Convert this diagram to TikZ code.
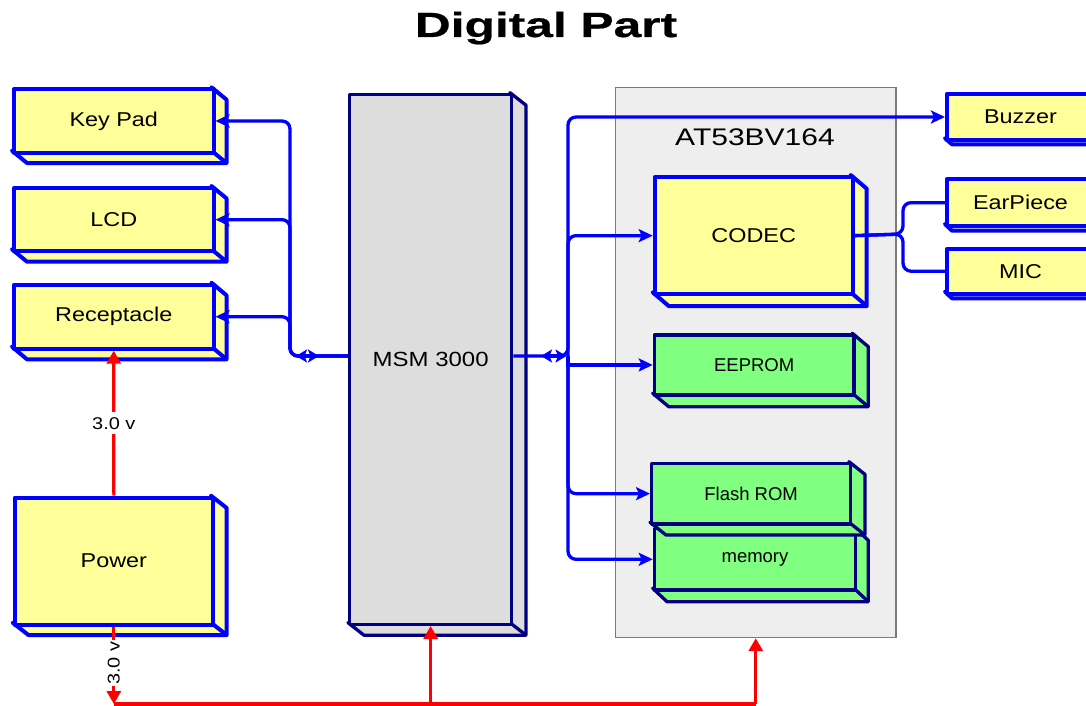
\documentclass[tikz,border=0pt]{standalone}
\usepackage{fontspec}
\setmainfont{Liberation Sans}
\newfontfamily\widef{Liberation Sans}[FakeStretch=1.17]
\newfontfamily\atf{Liberation Sans}[FakeStretch=1.25]
\newfontfamily\titlef{Liberation Sans}[FakeStretch=1.42,FakeBold=0.6]
\usetikzlibrary{arrows.meta,calc}
\definecolor{yel}{HTML}{FFFF99}
\definecolor{bblue}{HTML}{0000FF}
\definecolor{grn}{HTML}{80FF80}
\definecolor{navy}{HTML}{000080}
\definecolor{msmgray}{HTML}{DDDDDD}
\definecolor{atgray}{HTML}{EEEEEE}
\definecolor{atborder}{HTML}{7A7A7A}
\definecolor{pred}{HTML}{FF0000}
% name, x1, y1, x2, y2, dx, dy, style, text
\newcommand\boxiii[9]{%
  \filldraw[#8] (#4,#3) -- (#4+#6,#3+#7) -- (#4+#6,#5+#7) -- (#2+#6,#5+#7) -- (#2,#5) -- (#4,#5) -- cycle;
  \draw[#8] (#4,#5) -- (#4+#6,#5+#7);
  \node[#8, anchor=north west, minimum width=#4-#2, minimum height=#5-#3, inner sep=0pt] (#1) at (#2,#3) {#9};
}
\tikzset{
  ybox/.style={fill=yel, draw=bblue, line width=4pt, line join=round, font=\widef\fontsize{20}{24}\selectfont},
  gbox/.style={fill=grn, draw=navy, line width=3.3pt, line join=round, font=\fontsize{18.5}{22}\selectfont},
  mbox/.style={fill=msmgray, draw=navy, line width=3.3pt, line join=round, font=\widef\fontsize{20.5}{24}\selectfont},
  bus/.style={draw=bblue, line width=3.3pt},
  btip/.style={-{Stealth[length=14pt,width=13pt,inset=3pt]}},
  dbl/.style={{Stealth[length=11pt,width=13pt,inset=2.5pt]}-{Stealth[length=11pt,width=13pt,inset=2.5pt]}},
  pwr/.style={draw=pred, line width=3.2pt},
  rtip/.style={-{Triangle[length=13pt,width=14pt]}},
  vlab/.style={fill=white, text=black, font=\widef\fontsize{17}{20}\selectfont},
}
\begin{document}
\begin{tikzpicture}[x=1pt,y=-1pt]
\useasboundingbox (0,0) rectangle (1086,706);
\clip (0,0) rectangle (1086,706);

\node[font=\titlef\bfseries\fontsize{35}{40}\selectfont, anchor=base] (title) at (546,37) {Digital Part};

% AT53BV164 container
\node[draw=atborder, fill=atgray, line width=1.2pt, minimum width=280.3, minimum height=549.7, anchor=north west, inner sep=0pt] (at53) at (615,87.3) {};
\node[font=\atf\fontsize{24}{28}\selectfont] (atlabel) at (755,137) {AT53BV164};

% left boxes
\boxiii{keypad}{12}{87.3}{211.5}{150.7}{15}{12.3}{ybox}{Key Pad}
\boxiii{lcd}{12}{186}{211.5}{249.3}{15}{12.4}{ybox}{LCD}
\boxiii{receptacle}{12}{282.7}{211.5}{346.7}{15}{12.6}{ybox}{Receptacle}
\boxiii{power}{12.7}{495.7}{211}{622.7}{15.7}{12.3}{ybox}{Power}

% MSM
\boxiii{msm}{348}{92.7}{510}{622.7}{16}{12.5}{mbox}{MSM 3000}

% inner boxes
\boxiii{codec}{652.7}{175}{850.7}{292.3}{16}{13.7}{ybox}{CODEC}
\boxiii{eeprom}{652.7}{333.3}{852.3}{393.3}{16}{13.4}{gbox}{EEPROM}
\boxiii{memory}{652.7}{527}{854}{588.3}{14.3}{13.4}{gbox}{memory}
\boxiii{flash}{650}{461.7}{849}{522.3}{16}{12.7}{gbox}{Flash ROM}

% right boxes
\boxiii{buzzer}{945}{91.7}{1092}{138.3}{7}{6}{ybox}{Buzzer}
\boxiii{earpiece}{945}{177.3}{1092}{224}{7}{6.7}{ybox}{EarPiece}
\boxiii{mic}{945}{246.7}{1092}{291.7}{7}{6.6}{ybox}{MIC}

% junctions
\coordinate (jl) at (290,356);
\coordinate (jr) at (568,356);
\coordinate (jc) at (903,234);
\coordinate (pb) at (112.5,704);

% left bus
\draw[bus, rounded corners=8pt, btip] (msm.west |- jl) -- (jl) |- (keypad.east);
\draw[bus, rounded corners=8pt, btip] (msm.west |- jl) -- (jl) |- (lcd.east);
\draw[bus, rounded corners=8pt, btip] (msm.west |- jl) -- (jl) |- (receptacle.east);
\draw[bus, dbl] ($(jl)+(6,0)$) -- ($(jl)+(29,0)$);

% right bus
\draw[bus, rounded corners=8pt, btip] (msm.east |- jr) -- (jr) |- (buzzer.west);
\draw[bus, rounded corners=8pt, btip] (jr) |- (codec.west);
\draw[bus, btip] (jr) |- (eeprom.west);
\draw[bus, rounded corners=8pt, btip] (jr) |- (flash.west);
\draw[bus, rounded corners=8pt, btip] (jr) |- (memory.west);
\draw[bus, dbl] ($(jr)+(-27,0)$) -- ($(jr)+(-1.5,0)$);

% codec outputs
\draw[bus, rounded corners=8pt] (codec.east) -- (jc) |- (earpiece.west);
\draw[bus, rounded corners=8pt] (codec.east) -- (jc) |- (mic.west);

% power lines
\draw[pwr, rtip] (power.north) -- node[vlab, inner xsep=2pt, inner ysep=5pt] (v1) {3.0 v} (receptacle.south);
\draw[pwr, rtip] (power.south) -- node[vlab, rotate=90, inner xsep=1pt, inner ysep=1pt, pos=0.47] (v2) {3.0 v} (power.south |- pb);
\draw[pwr] (power.south |- pb) -- (at53.south |- pb);
\draw[pwr, rtip] (msm.south |- pb) -- (msm.south);
\draw[pwr, rtip] (at53.south |- pb) -- (at53.south);
\end{tikzpicture}
\end{document}
